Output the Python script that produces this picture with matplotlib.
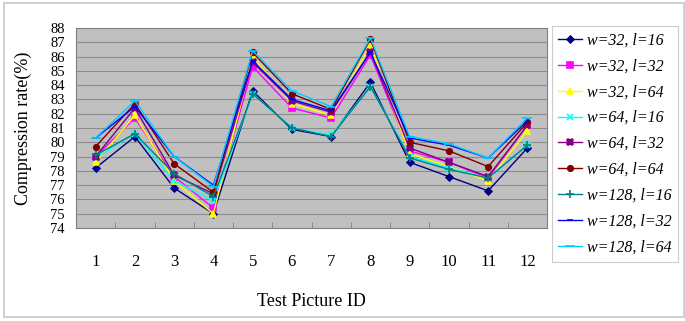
import matplotlib
matplotlib.use("Agg")
import matplotlib.pyplot as plt
from matplotlib.patches import Rectangle

pictures = list(range(1, 13))
labels = ["w=32, l=16", "w=32, l=32", "w=32, l=64", "w=64, l=16", "w=64, l=32",
          "w=64, l=64", "w=128, l=16", "w=128, l=32", "w=128, l=64"]

w32_l16 = [78.2, 80.4, 76.8, 75.0, 83.6, 80.9, 80.4, 84.2, 78.6, 77.6, 76.6, 79.6]
w32_l32 = [79.0, 81.7, 77.6, 75.4, 85.3, 82.4, 81.7, 86.1, 79.4, 78.6, 77.5, 81.2]
w32_l64 = [78.6, 81.9, 77.3, 75.0, 86.0, 82.7, 81.9, 86.8, 79.2, 78.3, 77.3, 80.8]
w64_l16 = [78.9, 80.6, 77.3, 75.9, 83.4, 81.0, 80.5, 83.9, 79.0, 78.2, 77.5, 79.8]
w64_l32 = [79.0, 82.4, 77.7, 76.4, 85.6, 82.9, 82.1, 86.3, 79.6, 78.6, 77.6, 81.2]
w64_l64 = [79.7, 82.7, 78.5, 76.5, 86.3, 83.4, 82.3, 87.2, 80.0, 79.4, 78.3, 81.4]
w128_l16 = [79.1, 80.6, 77.8, 76.2, 83.4, 81.0, 80.4, 83.9, 78.9, 78.1, 77.5, 79.8]
w128_l32 = [80.3, 82.5, 79.0, 77.0, 85.7, 83.0, 82.2, 86.3, 80.3, 79.8, 78.9, 81.5]
w128_l64 = [80.3, 82.9, 79.0, 76.9, 86.4, 83.6, 82.5, 87.3, 80.4, 79.9, 78.9, 81.7]

series = [w32_l16, w32_l32, w32_l64, w64_l16, w64_l32, w64_l64, w128_l16, w128_l32, w128_l64]
colors = ["#000080", "#FF00FF", "#FFFF00", "#00FFFF", "#800080",
          "#800000", "#008080", "#0000FF", "#00CCFF"]
markers = ["D", "s", "^", "x", "X", "o", "+", "_", "_"]
msizes = [3.5, 4, 4.5, 4.5, 4.5, 4, 6, 5, 7]

plt.rcParams['font.family'] = ['Liberation Serif', 'DejaVu Serif']

W, H = 685, 321
fig = plt.figure(figsize=(W / 100, H / 100), dpi=100)
fig.patch.set_facecolor("white")

# outer border
fig.patches.append(Rectangle((4 / W, 1 - 317 / H), 680 / W, 314 / H,
                             transform=fig.transFigure, fill=False,
                             edgecolor="#C8C8C8", linewidth=1.2))

ax = fig.add_axes([76 / W, 1 - 228 / H, (547 - 76) / W, (228 - 28) / H])
ax.set_facecolor("#C0C0C0")

for vals, c, m, ms, lab in zip(series, colors, markers, msizes, labels):
    ax.plot(pictures, vals, color=c, marker=m, markersize=ms, linewidth=1.0,
            markeredgewidth=1.2, label=lab)

ax.set_xlim(0.5, 12.5)
ax.set_ylim(74, 88)
ax.set_yticks(range(74, 89))
ax.set_yticklabels([str(v) for v in range(74, 89)], fontsize=10.5)
ax.yaxis.grid(True, color="#8C8C8C", linewidth=0.8)
ax.set_axisbelow(True)
ax.tick_params(axis="y", length=0, pad=8)

ax.set_xticks(pictures)
ax.set_xticklabels([str(p) for p in pictures], fontsize=12)
ax.tick_params(axis="x", length=0, pad=19)
ax.set_xticks([p + 0.5 for p in pictures[:-1]], minor=True)
ax.tick_params(axis="x", which="minor", direction="in", length=4, color="#808080")

for s in ax.spines.values():
    s.set_color("#808080")
    s.set_linewidth(0.8)

ax.set_ylabel("Compression rate(%)", fontsize=13)
ax.yaxis.set_label_coords(-44 / 471, 0.5)
ax.set_xlabel("Test Picture ID", fontsize=13, labelpad=16)

leg = fig.legend(loc="upper left", bbox_to_anchor=(552 / W, 1 - 26 / H),
                 frameon=True, fancybox=False, edgecolor="#C0C0C0",
                 prop={"style": "italic", "size": 11.5}, handlelength=1.5,
                 handletextpad=0.3, labelspacing=0.62, borderpad=0.4,
                 borderaxespad=0)
leg.get_frame().set_linewidth(0.8)

fig.savefig("out.png", dpi=100)
